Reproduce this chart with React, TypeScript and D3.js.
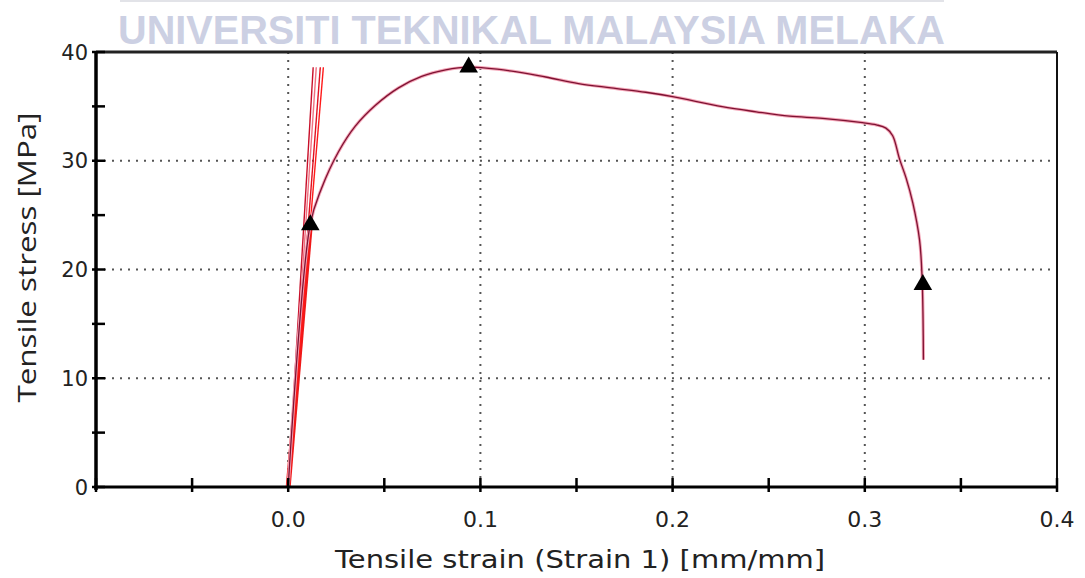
import React from "react";
import * as d3 from "d3";

// ---- data ----
const curveStrain = [0, 0.0115, 0.0172, 0.0261, 0.035, 0.0454, 0.0574, 0.0694, 0.0819, 0.0939, 0.1163, 0.134, 0.151, 0.168, 0.186, 0.2, 0.2258, 0.2435, 0.2608, 0.278, 0.2988, 0.306, 0.311, 0.3145, 0.318, 0.3215, 0.325, 0.3285, 0.3298, 0.3303, 0.3305];
const curveStress = [0, 24.2, 27.4, 30.8, 33.2, 35.1, 36.7, 37.75, 38.35, 38.6, 38.25, 37.7, 37.1, 36.7, 36.3, 35.9, 34.97, 34.5, 34.1, 33.9, 33.5, 33.3, 33.0, 32.3, 30.2, 28.4, 26.1, 22.7, 19.3, 15.5, 11.7];

const elasticTopStrain = [0.013, 0.0146, 0.0167, 0.0183];
const elasticTopStress = [38.6, 38.6, 38.6, 38.6];
const elasticColors = ["#c8102a", "#f07080", "#e01020", "#ff1a1a"];

const markerStrain = [0.0115, 0.0939, 0.3302];
const markerStress = [24.1, 38.6, 18.6];

const xLabelTicks = [0.0, 0.1, 0.2, 0.3, 0.4];
const xMinorTicks = [-0.1, -0.05, 0.0, 0.05, 0.1, 0.15, 0.2, 0.25, 0.3, 0.35, 0.4];
const yLabelTicks = [0, 10, 20, 30, 40];
const yMinorTicks = [5, 15, 25, 35];
const xGrid = [0.0, 0.1, 0.2, 0.3];
const yGrid = [10, 20, 30];

const xTitle = "Tensile strain (Strain 1) [mm/mm]";
const yTitle = "Tensile stress [MPa]";
const watermark = "UNIVERSITI TEKNIKAL MALAYSIA MELAKA";

export default function App() {
  const W = 1085, H = 578;
  const L = 96, R = 1057, T = 52, B = 487;
  const x = d3.scaleLinear().domain([-0.1, 0.4]).range([L, R]);
  const y = d3.scaleLinear().domain([0, 40]).range([B, T]);

  const pts: [number, number][] = curveStrain.map((s, i) => [s, curveStress[i]]);
  const line = d3
    .line<[number, number]>()
    .x((d) => x(d[0]))
    .y((d) => y(d[1]))
    .curve(d3.curveCatmullRom.alpha(0.5));
  const mainPath = line(pts) || "";

  const tri = d3.symbol().type(d3.symbolTriangle).size(150)() || "";
  const tickFont = "'DejaVu Sans', Verdana, sans-serif";

  return (
    <div style={{ position: "fixed", left: 0, top: 0 }}>
      <svg width={W} height={H} style={{ display: "block", background: "#fff" }}>
        {/* watermark */}
        <line x1={120} x2={944} y1={1} y2={1} stroke="#e2e3e8" strokeWidth={2} />
        <text
          x={118}
          y={44}
          fontFamily="'Liberation Sans Narrow', 'Liberation Sans', Arial, sans-serif"
          fontWeight="bold"
          fontSize={40}
          fill="#ccd0e3"
          textLength={827}
          lengthAdjust="spacingAndGlyphs"
        >
          {watermark}
        </text>

        {/* grid */}
        {yGrid.map((v) => (
          <line key={"gy" + v} x1={L} x2={R} y1={y(v)} y2={y(v)} stroke="#555" strokeWidth={2} strokeDasharray="2,6" />
        ))}
        {xGrid.map((v) => (
          <line key={"gx" + v} x1={x(v)} x2={x(v)} y1={T} y2={B} stroke="#555" strokeWidth={2} strokeDasharray="2,6" />
        ))}

        {/* frame */}
        <line x1={L} x2={R} y1={T} y2={T} stroke="#222" strokeWidth={3} />
        <line x1={R} x2={R} y1={T} y2={B} stroke="#111" strokeWidth={2} />

        {/* elastic lines */}
        <line x1={x(0)} y1={y(0)} x2={x(markerStrain[0])} y2={y(markerStress[0])} stroke="#f01818" strokeWidth={5} />
        {elasticTopStrain.map((s, i) => (
          <line
            key={"el" + i}
            x1={x(0)}
            y1={y(0)}
            x2={x(s)}
            y2={y(elasticTopStress[i])}
            stroke={elasticColors[i]}
            strokeWidth={1.4}
          />
        ))}

        {/* main curve */}
        <path d={mainPath} fill="none" stroke="#f4a6b8" strokeWidth={3.2} />
        <path d={mainPath} fill="none" stroke="#7e1232" strokeWidth={1.3} />

        {/* markers */}
        {markerStrain.map((s, i) => (
          <path key={"m" + i} d={tri} transform={`translate(${x(s)},${y(markerStress[i])})`} fill="#000" />
        ))}

        {/* axes */}
        <line x1={L} x2={L} y1={T - 1} y2={B + 3} stroke="#000" strokeWidth={3.5} />
        <line x1={L - 2} x2={R} y1={B} y2={B} stroke="#000" strokeWidth={3} />
        {yLabelTicks.concat(yMinorTicks).map((v) => (
          <line key={"yt" + v} x1={L - 4} x2={L + 9} y1={y(v)} y2={y(v)} stroke="#000" strokeWidth={2.5} />
        ))}
        {xMinorTicks.map((v) => (
          <line key={"xt" + v} x1={x(v)} x2={x(v)} y1={B - 9} y2={B + 5} stroke="#000" strokeWidth={2.5} />
        ))}

        {yLabelTicks.map((v) => (
          <text key={"yl" + v} x={L - 8} y={y(v)} dy="0.36em" textAnchor="end" fontFamily={tickFont} fontSize={21} fill="#222">
            {v}
          </text>
        ))}
        {xLabelTicks.map((v) => (
          <text key={"xl" + v} x={x(v)} y={B + 40} textAnchor="middle" fontFamily={tickFont} fontSize={22} fill="#222">
            {v.toFixed(1)}
          </text>
        ))}

        <text
          x={580}
          y={568}
          textAnchor="middle"
          fontFamily={tickFont}
          fontSize={25}
          fill="#222"
          textLength={490}
          lengthAdjust="spacingAndGlyphs"
        >
          {xTitle}
        </text>
        <text
          transform={`translate(36,${(110 + 405) / 2}) rotate(-90)`}
          textAnchor="middle"
          fontFamily="'Open Sans', 'Noto Sans', sans-serif"
          fontSize={26}
          fill="#222"
          textLength={290}
          lengthAdjust="spacingAndGlyphs"
        >
          {yTitle}
        </text>
      </svg>
    </div>
  );
}
